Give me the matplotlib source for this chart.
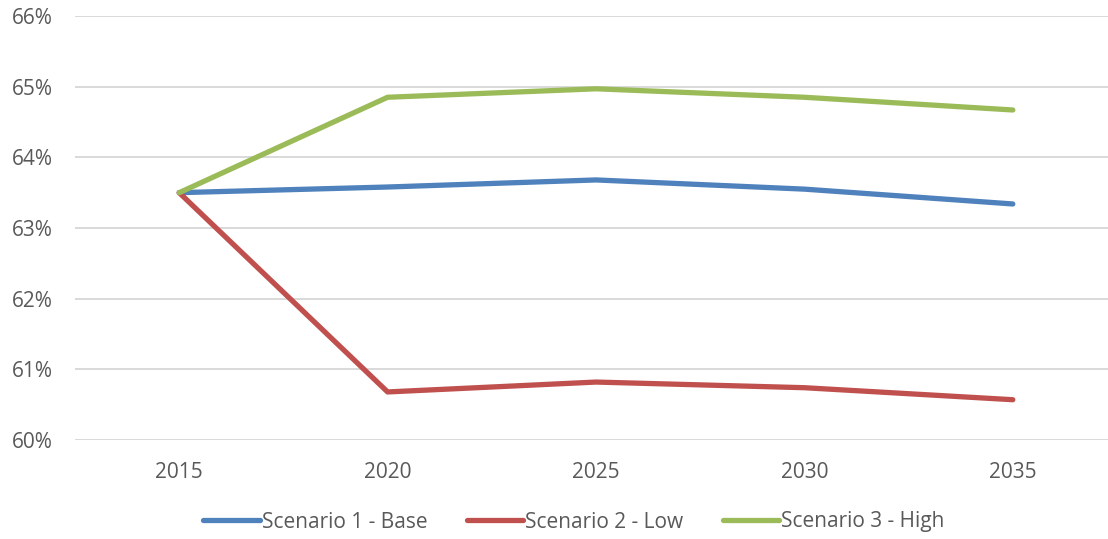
import matplotlib
matplotlib.use("Agg")
import matplotlib.pyplot as plt
from matplotlib.ticker import FuncFormatter

years = ["2015", "2020", "2025", "2030", "2035"]
base = [63.50, 63.58, 63.68, 63.55, 63.34]
low = [63.50, 60.68, 60.82, 60.74, 60.57]
high = [63.50, 64.85, 64.97, 64.85, 64.67]

labels = ["Scenario 1 - Base", "Scenario 2 - Low", "Scenario 3 - High"]
colors = ["#4F81BD", "#C0504D", "#9BBB59"]

plt.rcParams["font.family"] = ["Open Sans", "DejaVu Sans"]
text_color = "#595959"

fig = plt.figure(figsize=(11.08, 5.39), dpi=100)
ax = fig.add_axes([75 / 1108, 1 - 440 / 539, 1042 / 1108, 424 / 539])

x = range(len(years))
for series, lab, col in zip([base, low, high], labels, colors):
    ax.plot(x, series, color=col, linewidth=3.8, solid_capstyle="round",
            solid_joinstyle="round", label=lab)

ax.set_xlim(-0.5, len(years) - 0.5)
ax.set_ylim(60, 66)
ax.set_yticks(range(60, 67))
ax.yaxis.set_major_formatter(FuncFormatter(lambda v, p: f"{v:.0f}%"))
ax.set_xticks(list(x))
ax.set_xticklabels(years)

ax.grid(axis="y", color="#D9D9D9", linewidth=1.4)
ax.set_axisbelow(True)
for s in ax.spines.values():
    s.set_visible(False)
ax.tick_params(axis="both", length=0, labelsize=15, labelcolor=text_color)
ax.tick_params(axis="y", pad=16)
ax.tick_params(axis="x", pad=16)

fig.legend(loc="center", bbox_to_anchor=(574 / 1108, 1 - 522 / 539), ncol=3,
           frameon=False, fontsize=15, labelcolor=text_color,
           handlelength=2.7, handletextpad=0.1, columnspacing=1.9)

fig.savefig("out.png", dpi=100)
